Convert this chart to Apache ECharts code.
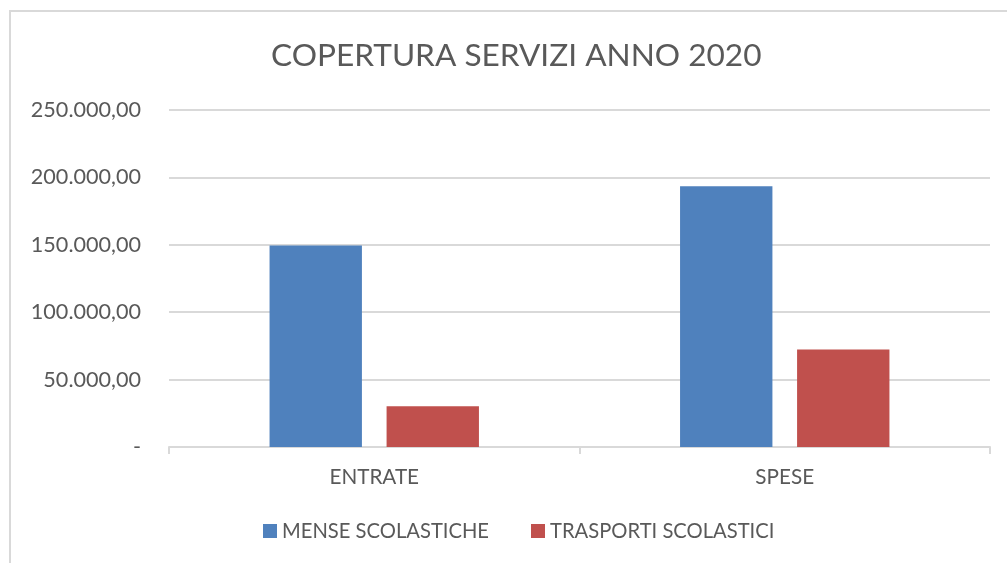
<!DOCTYPE html>
<html>
<head>
<meta charset="utf-8">
<script src="https://cdn.jsdelivr.net/npm/echarts@6/dist/echarts.min.js"></script>
<style>
html,body{margin:0;padding:0;background:#fff;}
#chart{width:1007px;height:563px;}
</style>
</head>
<body>
<div id="chart"></div>
<script>
const categories = ['ENTRATE', 'SPESE'];
const seriesNames = ['MENSE SCOLASTICHE', 'TRASPORTI SCOLASTICI'];
const mense = [149500, 193500];
const trasporti = [30200, 72300];
const yTicks = [0, 50000, 100000, 150000, 200000, 250000];

const FONT = 'Lato';
const TXT = '#595959';
const GRID = '#d9d9d9';

function fmt(v) {
  if (v === 0) return '-';
  const s = Math.round(v).toString().replace(/\B(?=(\d{3})+(?!\d))/g, '.');
  return s + ',00';
}

const chart = echarts.init(document.getElementById('chart'));
chart.setOption({
  animation: false,
  graphic: [{
    type: 'rect',
    shape: { x: 10, y: 11, width: 1100, height: 700 },
    style: { fill: 'none', stroke: GRID, lineWidth: 2 },
    silent: true
  }],
  title: {
    text: 'COPERTURA SERVIZI ANNO 2020',
    left: 266,
    top: 35,
    textStyle: { fontFamily: FONT, fontSize: 31.6, fontWeight: 'normal', color: TXT }
  },
  legend: {
    bottom: 17,
    left: 258,
    icon: 'rect',
    itemWidth: 14,
    itemHeight: 14,
    itemGap: 42,
    textStyle: { fontFamily: FONT, fontSize: 20.2, color: TXT },
    data: seriesNames
  },
  grid: { left: 169, right: 17, top: 110, bottom: 116 },
  xAxis: {
    type: 'category',
    data: categories,
    axisLine: { lineStyle: { color: GRID, width: 2 } },
    axisTick: { show: true, alignWithLabel: false, length: 7, lineStyle: { color: GRID, width: 2 } },
    axisLabel: { fontFamily: FONT, fontSize: 20.7, color: TXT, margin: 20 }
  },
  yAxis: {
    type: 'value',
    min: yTicks[0],
    max: yTicks[yTicks.length - 1],
    interval: yTicks[1] - yTicks[0],
    axisLine: { show: false },
    axisTick: { show: false },
    splitLine: { lineStyle: { color: GRID, width: 2 } },
    axisLabel: { fontFamily: FONT, fontSize: 21.6, color: TXT, margin: 28, formatter: fmt }
  },
  series: [
    {
      name: seriesNames[0], type: 'bar', data: mense,
      barWidth: '22.5%', barGap: '26.7%',
      itemStyle: { color: '#4f81bd' }
    },
    {
      name: seriesNames[1], type: 'bar', data: trasporti,
      barWidth: '22.5%', barGap: '26.7%',
      itemStyle: { color: '#c0504d' }
    }
  ]
});
</script>
</body>
</html>
